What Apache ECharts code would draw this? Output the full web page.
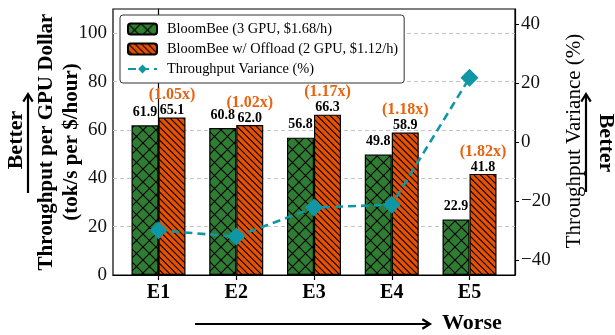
<!DOCTYPE html>
<html>
<head>
<meta charset="utf-8">
<script src="https://cdn.jsdelivr.net/npm/echarts@6/dist/echarts.min.js"></script>
<style>html,body{margin:0;padding:0;background:#fff}#c{width:615px;height:335px}</style>
</head>
<body>
<div id="c"></div>
<script>
const categories = ['E1', 'E2', 'E3', 'E4', 'E5'];
const bloombee = [61.9, 60.8, 56.8, 49.8, 22.9];
const offload = [65.1, 62.0, 66.3, 58.9, 41.8];
const speedup = ['(1.05x)', '(1.02x)', '(1.17x)', '(1.18x)', '(1.82x)'];
const variance = [-29.9, -32.0, -22.2, -21.2, 21.7];
const leftTicks = [0, 20, 40, 60, 80, 100];
const rightTicks = [-40, -20, 0, 20, 40];
const seriesNames = ['BloomBee (3 GPU, $1.68/h)', 'BloomBee w/ Offload (2 GPU, $1.12/h)', 'Throughput Variance (%)'];

const FONT = "'Liberation Serif', 'DejaVu Serif', serif";
const GREEN = '#2e7d32', ORANGE = '#e65100', TEAL = '#0f97a6', RATIO = '#e8620f';

function crossHatch() {
  const s = 13, c = document.createElement('canvas');
  c.width = s; c.height = s;
  const g = c.getContext('2d');
  g.fillStyle = GREEN; g.fillRect(0, 0, s, s);
  g.strokeStyle = '#000'; g.lineWidth = 1.1;
  g.beginPath();
  g.moveTo(-1, -1); g.lineTo(s + 1, s + 1);
  g.moveTo(-1, s + 1); g.lineTo(s + 1, -1);
  g.stroke();
  return c;
}
function diagHatch() {
  const s = 13, c = document.createElement('canvas');
  c.width = s; c.height = s;
  const g = c.getContext('2d');
  g.fillStyle = ORANGE; g.fillRect(0, 0, s, s);
  g.strokeStyle = '#000'; g.lineWidth = 1.1;
  g.beginPath();
  for (const k of [-13, -6.5, 0, 6.5, 13]) {
    g.moveTo(-2, -2 + k); g.lineTo(s + 2, s + 2 + k);
  }
  g.stroke();
  return c;
}
const greenPat = { image: crossHatch(), repeat: 'repeat' };
const orangePat = { image: diagHatch(), repeat: 'repeat' };

const idx = categories.map((_, i) => i);
const minus = v => (v < 0 ? '\u2212' + (-v) : String(v));

function arrow(x1, y1, x2, y2) {
  const ang = Math.atan2(y2 - y1, x2 - x1), h = 9, w = 0.55;
  const p1 = [x2 - h * Math.cos(ang - w), y2 - h * Math.sin(ang - w)];
  const p2 = [x2 - h * Math.cos(ang + w), y2 - h * Math.sin(ang + w)];
  return {
    type: 'group', children: [
      { type: 'polyline', shape: { points: [[x1, y1], [x2, y2]] }, style: { stroke: '#000', lineWidth: 2.2, fill: null } },
      { type: 'polyline', shape: { points: [p1, [x2, y2], p2] }, style: { stroke: '#000', lineWidth: 2.2, fill: null } }
    ]
  };
}
function rtext(x, y, text, rot, font) {
  return { type: 'text', x: x, y: y, rotation: rot, style: { text: text, font: font, fill: '#000', align: 'center', verticalAlign: 'middle' } };
}

const chart = echarts.init(document.getElementById('c'), null, { renderer: 'canvas' });
chart.setOption({
  animation: false,
  textStyle: { fontFamily: FONT },
  grid: { left: 113, right: 100, top: 9, bottom: 60, show: true, borderColor: '#000', borderWidth: 1.2, backgroundColor: 'transparent' },
  legend: {
    orient: 'vertical', left: 120, top: 15,
    padding: [7, 6, 7, 7], itemGap: 6, itemWidth: 29, itemHeight: 11,
    backgroundColor: '#fff', borderColor: '#333', borderWidth: 1, borderRadius: 3,
    textStyle: { fontFamily: FONT, fontSize: 14.4, color: '#000', lineHeight: 14, padding: [0, 0, 0, 5] },
    data: seriesNames
  },
  xAxis: {
    type: 'value', min: -0.585, max: 4.585,
    axisLine: { lineStyle: { color: '#000', width: 1.2 } },
    axisTick: { customValues: idx, length: 5, lineStyle: { color: '#000', width: 1.2 } },
    axisLabel: { customValues: idx, formatter: v => categories[Math.round(v)], fontFamily: FONT, fontSize: 20, fontWeight: 'bold', color: '#000', margin: 8 },
    splitLine: { show: false }
  },
  yAxis: [
    {
      type: 'value', min: 0, max: 110, position: 'left',
      axisLine: { show: true, lineStyle: { color: '#000', width: 1.2 } },
      axisTick: { show: true, customValues: leftTicks, length: 4, lineStyle: { color: '#000' } },
      axisLabel: { customValues: leftTicks, fontFamily: FONT, fontSize: 19, color: '#111', margin: 6 },
      splitLine: { show: true, lineStyle: { color: '#c4c4c4', type: [4, 3], width: 1 } },
      interval: 20
    },
    {
      type: 'value', min: -45, max: 45, position: 'right',
      axisLine: { show: true, lineStyle: { color: '#000', width: 1.2 } },
      axisTick: { show: true, customValues: rightTicks, length: 4, lineStyle: { color: '#000' } },
      axisLabel: { customValues: rightTicks, formatter: minus, fontFamily: FONT, fontSize: 19, color: '#111', margin: 6 },
      splitLine: { show: false }
    }
  ],
  series: [
    {
      name: seriesNames[0], type: 'bar', barWidth: 27, barGap: '0%',
      data: idx.map(i => [i, bloombee[i]]),
      itemStyle: { color: greenPat, borderColor: '#000', borderWidth: 1.2 },
      label: { show: true, position: 'top', distance: 6, formatter: p => bloombee[p.dataIndex].toFixed(1), fontFamily: FONT, fontSize: 14, fontWeight: 'bold', color: '#000', lineHeight: 14 },
      z: 2
    },
    {
      name: seriesNames[1], type: 'bar', barWidth: 27, barGap: '0%',
      data: idx.map(i => [i, offload[i]]),
      itemStyle: { color: orangePat, borderColor: '#000', borderWidth: 1.2 },
      label: {
        show: true, position: 'top', distance: 0,
        formatter: p => '{r|' + speedup[p.dataIndex] + '}\n{v|' + offload[p.dataIndex].toFixed(1) + '}',
        rich: {
          r: { fontFamily: FONT, fontSize: 16, fontWeight: 'bold', color: RATIO, lineHeight: 17, align: 'center' },
          v: { fontFamily: FONT, fontSize: 14, fontWeight: 'bold', color: '#000', lineHeight: 14, align: 'center' }
        }
      },
      z: 2
    },
    {
      name: seriesNames[2], type: 'line', yAxisIndex: 1,
      data: idx.map(i => [i, variance[i]]),
      symbol: 'diamond', symbolSize: 18,
      lineStyle: { color: TEAL, width: 2.6, type: [8, 5] },
      itemStyle: { color: TEAL },
      z: 5
    }
  ],
  graphic: [
    rtext(47, 142, 'Throughput per GPU Dollar', Math.PI / 2, "bold 21px " + FONT),
    rtext(72, 142, '(tok/s per $/hour)', Math.PI / 2, "bold 21px " + FONT),
    rtext(16, 140, 'Better', Math.PI / 2, "bold 22px " + FONT),
    arrow(28, 193, 28, 94),
    rtext(574, 141, 'Throughput Variance (%)', Math.PI / 2, "21px " + FONT),
    rtext(606, 143, 'Better', -Math.PI / 2, "bold 22px " + FONT),
    arrow(586, 192, 586, 94),
    arrow(195, 324, 430, 324),
    { type: 'text', x: 442, y: 323, style: { text: 'Worse', font: "bold 22px " + FONT, fill: '#000', align: 'left', verticalAlign: 'middle' } }
  ]
});
</script>
</body>
</html>
